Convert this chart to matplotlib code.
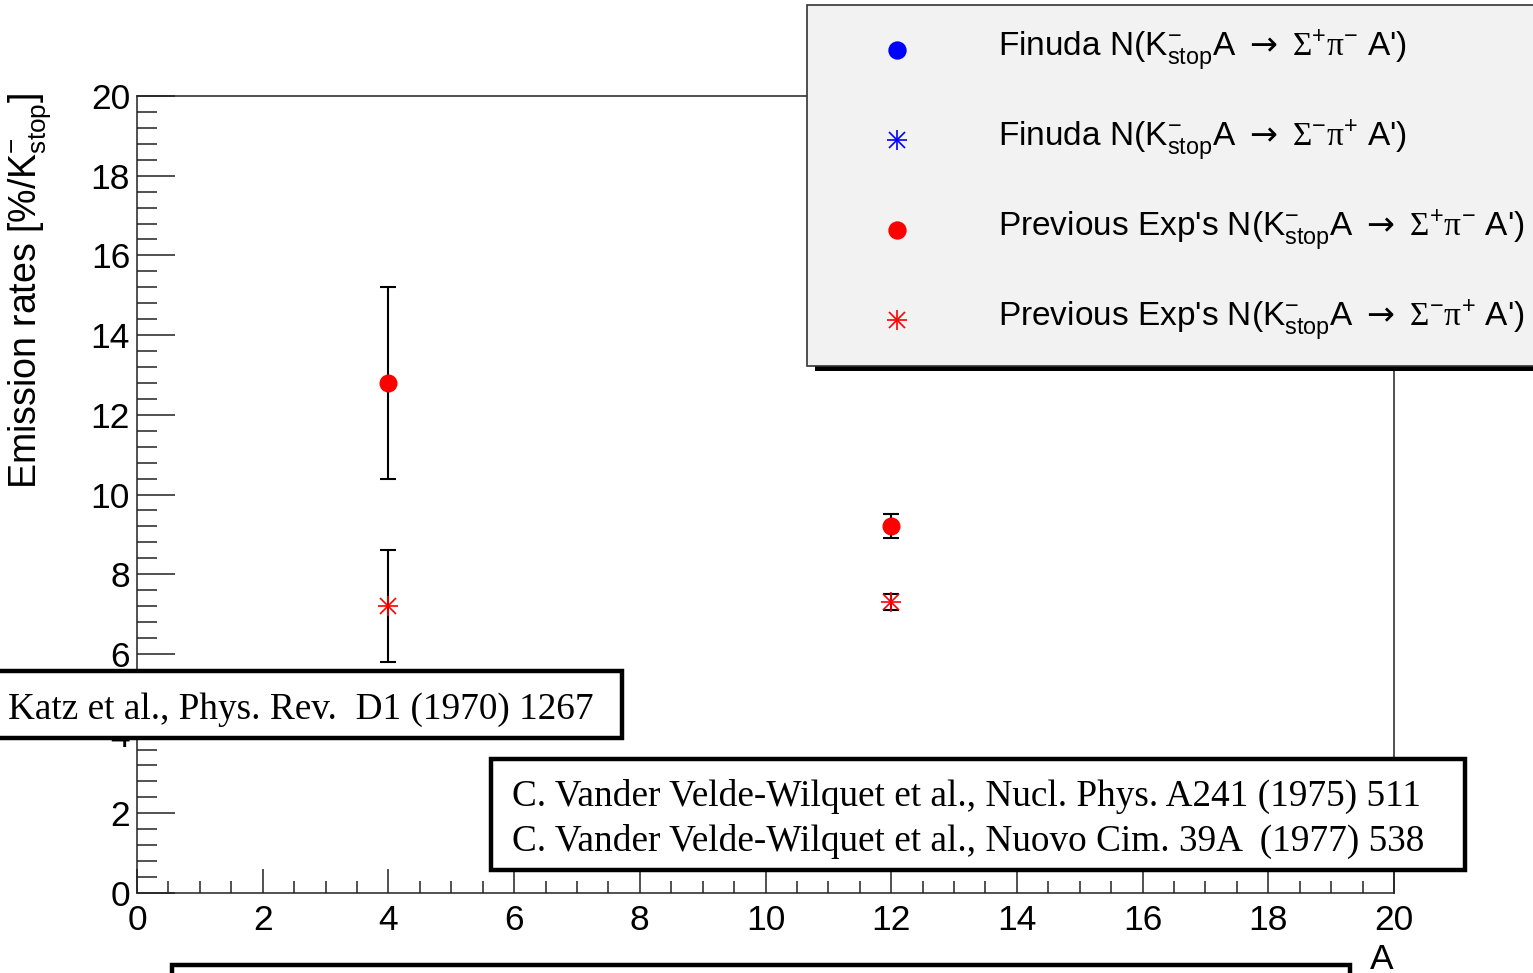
import matplotlib
matplotlib.use("Agg")
import matplotlib.pyplot as plt
from matplotlib.patches import Rectangle
from matplotlib.lines import Line2D
from matplotlib.ticker import MultipleLocator

# ---- data ----
A_values = [4, 12]
prev_sigp_pim = [12.8, 9.2]
prev_sigp_pim_err = [2.4, 0.3]
prev_sigm_pip = [7.2, 7.3]
prev_sigm_pip_err = [1.4, 0.2]
finuda_sigp_pim = []      # not visible in plotted range
finuda_sigm_pip = []

x_ticks = [0, 2, 4, 6, 8, 10, 12, 14, 16, 18, 20]
y_ticks = [0, 2, 4, 6, 8, 10, 12, 14, 16, 18, 20]

legend_labels = [
    r"Finuda N(K$^{-}_{\mathrm{stop}}$A $\mathcal{\rightarrow}$ $\mathsf{\Sigma}^{+}\mathsf{\pi}^{-}$ A')",
    r"Finuda N(K$^{-}_{\mathrm{stop}}$A $\mathcal{\rightarrow}$ $\mathsf{\Sigma}^{-}\mathsf{\pi}^{+}$ A')",
    r"Previous Exp's N(K$^{-}_{\mathrm{stop}}$A $\mathcal{\rightarrow}$ $\mathsf{\Sigma}^{+}\mathsf{\pi}^{-}$ A')",
    r"Previous Exp's N(K$^{-}_{\mathrm{stop}}$A $\mathcal{\rightarrow}$ $\mathsf{\Sigma}^{-}\mathsf{\pi}^{+}$ A')",
]
ref1 = "Katz et al., Phys. Rev.  D1 (1970) 1267"
ref2 = ["C. Vander Velde-Wilquet et al., Nucl. Phys. A241 (1975) 511",
        "C. Vander Velde-Wilquet et al., Nuovo Cim. 39A  (1977) 538"]

plt.rcParams['font.family'] = ['Liberation Sans', 'DejaVu Sans']
plt.rcParams['mathtext.fontset'] = 'custom'
plt.rcParams['mathtext.rm'] = 'Liberation Sans'
plt.rcParams['mathtext.it'] = 'Liberation Sans'
plt.rcParams['mathtext.bf'] = 'Liberation Sans:bold'
plt.rcParams['mathtext.sf'] = 'Liberation Serif'
plt.rcParams['mathtext.cal'] = 'DejaVu Sans'

W, H = 1533, 973
fig = plt.figure(figsize=(W / 100, H / 100), dpi=100)

def fx(x):
    return x / W

def fy(y):
    return 1 - y / H

ax = fig.add_axes([fx(137), fy(893), fx(1394) - fx(137), fy(96) - fy(893)])
ax.set_xlim(0, 20)
ax.set_ylim(0, 20)

edge = '#222222'
for s in ax.spines.values():
    s.set_linewidth(1.1)
    s.set_color(edge)

ax.set_xticks(x_ticks)
ax.set_yticks(y_ticks)
ax.xaxis.set_minor_locator(MultipleLocator(0.5))
ax.yaxis.set_minor_locator(MultipleLocator(0.4))
ax.tick_params(axis='x', which='major', direction='in', length=17.3, width=1.1,
               color=edge, labelsize=25.5, pad=8)
ax.tick_params(axis='x', which='minor', direction='in', length=8.6, width=1.1, color=edge)
ax.tick_params(axis='y', which='major', direction='in', length=27.4, width=1.1,
               color=edge, labelsize=25.5, pad=5)
ax.tick_params(axis='y', which='minor', direction='in', length=14.4, width=1.1, color=edge)

ax.set_xlabel('A', loc='right', fontsize=25.5, labelpad=4)

# data: previous experiments
ax.errorbar(A_values, prev_sigp_pim, yerr=prev_sigp_pim_err, fmt='none',
            ecolor='black', elinewidth=1.5, capsize=6, capthick=1.5, zorder=2)
ax.plot(A_values, prev_sigp_pim, linestyle='none', marker='o', markersize=12,
        color='red', zorder=3)
ax.errorbar(A_values, prev_sigm_pip, yerr=prev_sigm_pip_err, fmt='none',
            ecolor='black', elinewidth=1.5, capsize=6, capthick=1.5, zorder=2)
ax.plot(A_values, prev_sigm_pip, linestyle='none', marker='+', markersize=15,
        markeredgewidth=1.2, color='red', zorder=3)
ax.plot(A_values, prev_sigm_pip, linestyle='none', marker='x', markersize=11,
        markeredgewidth=1.2, color='red', zorder=3)
# Finuda (none within the visible frame)
ax.plot(finuda_sigp_pim, finuda_sigp_pim, linestyle='none', marker='o', color='blue')
ax.plot(finuda_sigm_pip, finuda_sigm_pip, linestyle='none', marker='+', color='blue')

# y title
fig.text(fx(30), fy(93), r"Emission rates [%/K$^{-}_{\mathrm{stop}}$]", rotation=90,
         ha='center', va='top', fontsize=27)

# ---- legend box (manual, ROOT-style with shadow) ----
def rect_px(x0, y0, x1, y1, **kw):
    r = Rectangle((fx(x0), fy(y1)), fx(x1) - fx(x0), fy(y0) - fy(y1),
                  transform=fig.transFigure, **kw)
    fig.add_artist(r)
    return r

rect_px(815, 13, 1560, 371, facecolor='black', edgecolor='none', zorder=10)
rect_px(807, 5, 1550, 366, facecolor='#f2f2f2', edgecolor='#333333', linewidth=1.2, zorder=11)

leg_styles = [
    dict(marker='o', color='blue', markersize=12),
    dict(marker='+', color='blue', markersize=15),
    dict(marker='o', color='red', markersize=12),
    dict(marker='+', color='red', markersize=15),
]
row_y = [50, 140, 230, 320]
for lab, st, yy in zip(legend_labels, leg_styles, row_y):
    mk = st['marker']
    fig.add_artist(Line2D([fx(897)], [fy(yy)], transform=fig.transFigure, linestyle='none',
                          marker=mk, color=st['color'], markersize=st['markersize'],
                          markeredgewidth=1.2, zorder=12))
    if mk == '+':
        fig.add_artist(Line2D([fx(897)], [fy(yy)], transform=fig.transFigure, linestyle='none',
                              marker='x', color=st['color'], markersize=11,
                              markeredgewidth=1.2, zorder=12))
    fig.text(fx(998), fy(yy + 6), lab, ha='left', va='baseline', fontsize=24, zorder=12)

# ---- reference boxes ----
rect_px(-10, 671, 622, 738, facecolor='white', edgecolor='black', linewidth=3.2, zorder=10)
fig.text(fx(8), fy(719), ref1, ha='left', va='baseline', fontsize=26.8,
         family='Liberation Serif', zorder=12)

rect_px(491, 759, 1465, 870, facecolor='white', edgecolor='black', linewidth=3.2, zorder=10)
fig.text(fx(512), fy(806), ref2[0], ha='left', va='baseline', fontsize=26.8,
         family='Liberation Serif', zorder=12)
fig.text(fx(512), fy(851), ref2[1], ha='left', va='baseline', fontsize=26.8,
         family='Liberation Serif', zorder=12)

rect_px(172, 965, 1350, 1000, facecolor='white', edgecolor='black', linewidth=3.2, zorder=10)

fig.savefig('out.png', dpi=100)
